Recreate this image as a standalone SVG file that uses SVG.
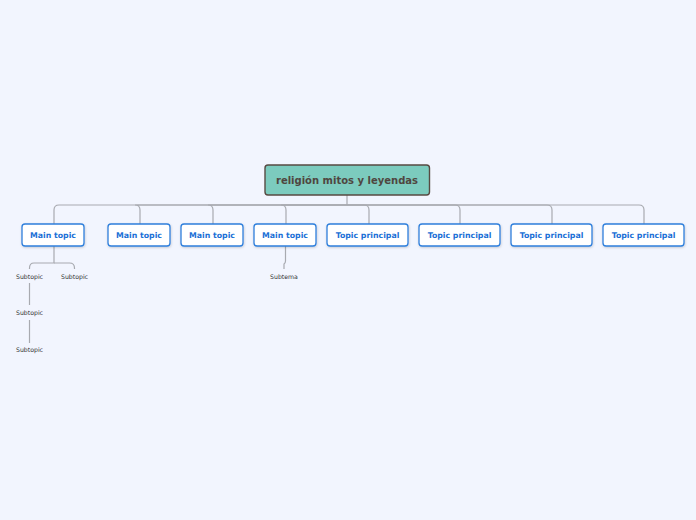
<svg xmlns="http://www.w3.org/2000/svg" width="696" height="520" viewBox="0 0 696 520">
<defs>
<style>
.bg{fill:#f2f5fe}
.con{fill:none;stroke:#a8aab0;stroke-width:1.2}
.root rect{fill:#7ccbbe;stroke:#574a42;stroke-width:1.4}
.root text{font-family:"DejaVu Sans",sans-serif;font-weight:bold;font-size:10px;fill:#4f4640;text-anchor:middle}
.main rect{fill:#ffffff;stroke:#2f7fdc;stroke-width:1.3}
.main text{font-family:"DejaVu Sans",sans-serif;font-weight:bold;font-size:7.8px;fill:#1a6fd6;text-anchor:middle}
.sub text{font-family:"DejaVu Sans",sans-serif;font-size:6.2px;fill:#333333;text-anchor:middle}
</style>
<filter id="sh" x="-10%" y="-20%" width="120%" height="150%">
<feDropShadow dx="0.5" dy="1" stdDeviation="0.8" flood-color="#000" flood-opacity="0.18"/>
</filter>
</defs>
<rect class="bg" x="0" y="0" width="696" height="520"/>
<g id="connectors">
<path class="con" d="M347,195 V205 H59 Q54,205 54,210 V224"/>
<path class="con" d="M347,205 H135 Q140,205 140,210 V224"/>
<path class="con" d="M347,205 H208 Q213,205 213,210 V224"/>
<path class="con" d="M347,205 H281 Q286,205 286,210 V224"/>
<path class="con" d="M347,205 H364 Q369,205 369,210 V224"/>
<path class="con" d="M347,205 H455 Q460,205 460,210 V224"/>
<path class="con" d="M347,205 H547 Q552,205 552,210 V224"/>
<path class="con" d="M347,205 H639 Q644,205 644,210 V224"/>
<path class="con" d="M54,246 V263 H34 Q29.5,263 29.5,268 V269"/>
<path class="con" d="M54,263 H69.5 Q74.5,263 74.5,268 V269"/>
<path class="con" d="M29.5,283 V305"/>
<path class="con" d="M29.5,320 V343"/>
<path class="con" d="M285.5,246 V261 Q285.5,263 284,264 V269"/>
</g>
<g id="root" class="root">
<rect x="265" y="165" width="164.5" height="30" rx="3"/>
<text x="347" y="184">religión mitos y leyendas</text>
</g>
<g id="t1" class="main"><rect x="22" y="224" width="62" height="22" rx="3" filter="url(#sh)"/><text x="53" y="238">Main topic</text></g>
<g id="t2" class="main"><rect x="108" y="224" width="62" height="22" rx="3" filter="url(#sh)"/><text x="139" y="238">Main topic</text></g>
<g id="t3" class="main"><rect x="181" y="224" width="62" height="22" rx="3" filter="url(#sh)"/><text x="212" y="238">Main topic</text></g>
<g id="t4" class="main"><rect x="254" y="224" width="62" height="22" rx="3" filter="url(#sh)"/><text x="285" y="238">Main topic</text></g>
<g id="t5" class="main"><rect x="327" y="224" width="81" height="22" rx="3" filter="url(#sh)"/><text x="367.5" y="238">Topic principal</text></g>
<g id="t6" class="main"><rect x="419" y="224" width="81" height="22" rx="3" filter="url(#sh)"/><text x="459.5" y="238">Topic principal</text></g>
<g id="t7" class="main"><rect x="511" y="224" width="81" height="22" rx="3" filter="url(#sh)"/><text x="551.5" y="238">Topic principal</text></g>
<g id="t8" class="main"><rect x="603" y="224" width="81" height="22" rx="3" filter="url(#sh)"/><text x="643.5" y="238">Topic principal</text></g>
<g id="s1" class="sub"><text x="29.5" y="278.5">Subtopic</text></g>
<g id="s2" class="sub"><text x="74.5" y="278.5">Subtopic</text></g>
<g id="s3" class="sub"><text x="29.5" y="314.5">Subtopic</text></g>
<g id="s4" class="sub"><text x="29.5" y="351.5">Subtopic</text></g>
<g id="s5" class="sub"><text x="284" y="278.5">Subtema</text></g>
</svg>
